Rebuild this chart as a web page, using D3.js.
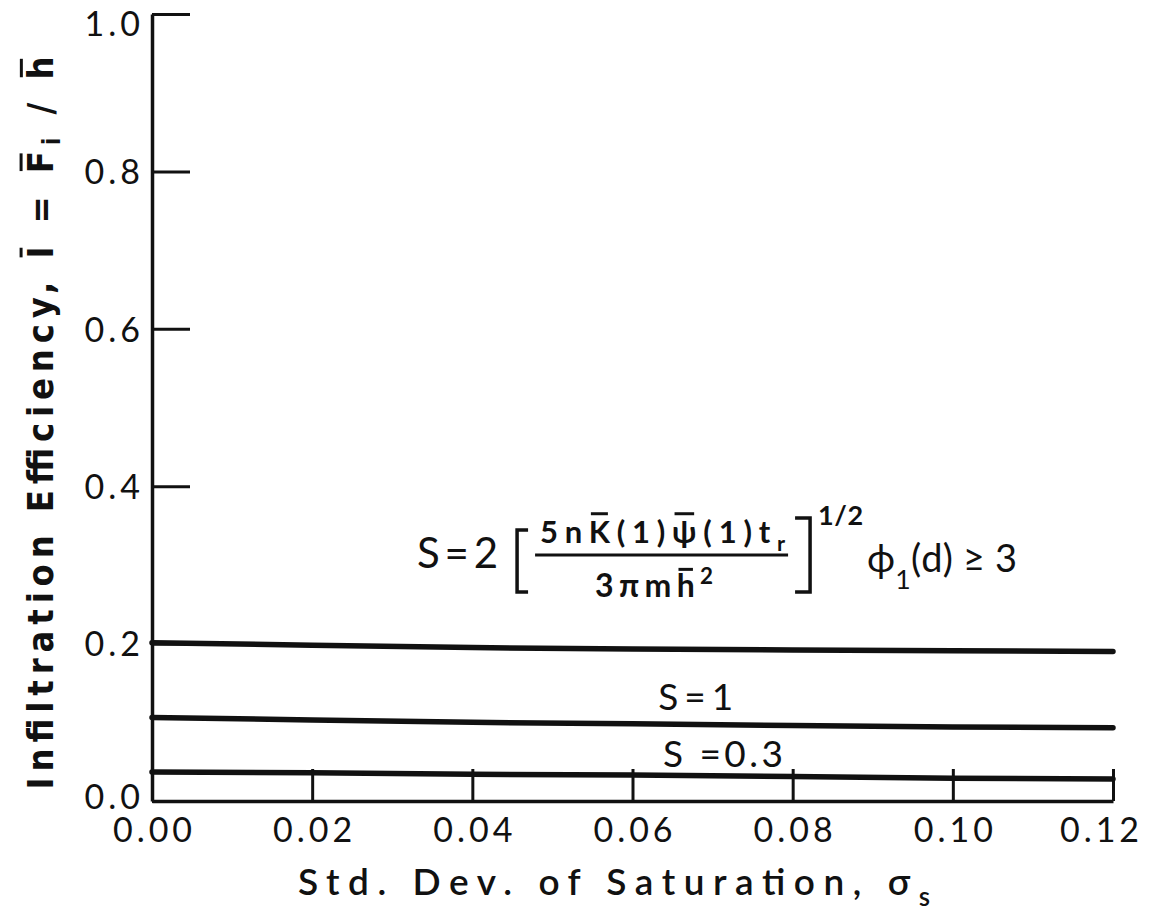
<!DOCTYPE html>
<html>
<head>
<meta charset="utf-8">
<script src="https://cdn.jsdelivr.net/npm/d3@7"></script>
<style>
  html, body { margin: 0; padding: 0; background: #fff; }
  svg { display: block; }
  text { fill: #111; }
</style>
</head>
<body>
<svg id="chart" width="1152" height="919"></svg>
<script>
// Infiltration efficiency vs. standard deviation of saturation
const sigmaS = [0, 0.02, 0.04, 0.06, 0.08, 0.10, 0.12];
const effHigh = [0.201, 0.198, 0.195, 0.193, 0.192, 0.191, 0.190]; // S >= 3
const effS1   = [0.106, 0.103, 0.100, 0.098, 0.096, 0.094, 0.093]; // S = 1
const effS03  = [0.037, 0.036, 0.034, 0.033, 0.031, 0.029, 0.028]; // S = 0.3

const xTicks = [0, 0.02, 0.04, 0.06, 0.08, 0.10, 0.12];
const xTickLabels = ["0.00", "0.02", "0.04", "0.06", "0.08", "0.10", "0.12"];
const yTicks = [0, 0.2, 0.4, 0.6, 0.8, 1.0];
const yTickLabels = ["0.0", "0.2", "0.4", "0.6", "0.8", "1.0"];
const seriesLabels = ["S = 1", "S =0.3"];

const INK = "#111";
const FONT = "Lato, 'Open Sans', sans-serif";

const svg = d3.select("#chart");
const x = d3.scaleLinear().domain([0, 0.12]).range([152, 1113]);
const y = d3.scaleLinear().domain([0, 1]).range([801, 14]);

// ---- axes ----
const yAxis = d3.axisLeft(y)
  .tickValues(yTicks)
  .tickFormat((d, i) => yTickLabels[i])
  .tickSizeInner(-38)
  .tickSizeOuter(0)
  .tickPadding(8);

const xAxis = d3.axisBottom(x)
  .tickValues(xTicks)
  .tickFormat((d, i) => xTickLabels[i])
  .tickSizeInner(-32)
  .tickSizeOuter(0)
  .tickPadding(17);

const gy = svg.append("g").attr("transform", `translate(${x(0)},0)`).call(yAxis);
const gx = svg.append("g").attr("transform", `translate(0,${y(0)})`).call(xAxis);

[gx, gy].forEach(g => {
  g.select(".domain").attr("stroke", INK).attr("stroke-width", 3.5);
  g.selectAll(".tick line").attr("stroke", INK).attr("stroke-width", 3);
  g.selectAll(".tick text")
    .attr("fill", INK)
    .style("font-family", FONT)
    .style("font-size", "34px")
    .style("letter-spacing", "4px");
});
// top label sits a little below its tick so it stays on the page;
// the bottom one is lifted clear of the x labels
gy.selectAll(".tick text").attr("dy", d => d === 1 ? "0.62em" : d === 0 ? "0.22em" : "0.36em");
gx.selectAll(".tick text").attr("dx", d => d === 0.12 ? "-12px" : "2px");

// ---- data lines ----
const line = d3.line().x(d => x(d[0])).y(d => y(d[1]));
[effHigh, effS1, effS03].forEach(vals => {
  svg.append("path")
    .datum(sigmaS.map((s, i) => [s, vals[i]]))
    .attr("d", line)
    .attr("fill", "none")
    .attr("stroke", INK)
    .attr("stroke-width", 5.5)
    .attr("stroke-linecap", "round");
});

// ---- helpers for text with sub/superscripts and overbars ----
function richText(parent, pieces, opts) {
  const t = parent.append("text")
    .attr("x", opts.x)
    .attr("y", opts.y)
    .style("font-family", opts.family || FONT)
    .style("font-size", opts.size + "px")
    .style("font-weight", opts.weight || 400)
    .attr("text-anchor", opts.anchor || "start");
  if (opts.length) t.attr("textLength", opts.length).attr("lengthAdjust", "spacing");
  let shift = 0;
  const bars = [];
  let idx = 0;
  pieces.forEach(p => {
    const sp = t.append("tspan").text(p.t);
    let target = 0;
    let fs = opts.size;
    if (p.sub) { target = opts.size * (p.subShift || 0.32); fs = opts.size * 0.7; }
    if (p.sup) { target = -opts.size * 0.42; fs = opts.size * 0.7; }
    sp.attr("dy", target - shift).style("font-size", fs + "px");
    shift = target;
    if (p.bar) bars.push({ idx, gap: p.gap || 6, h: p.h || 0.72 });
    idx += p.t.length;
  });
  // overbars drawn above selected characters
  const node = t.node();
  bars.forEach(b => {
    const r = node.getExtentOfChar(b.idx);
    const yb = opts.y - opts.size * b.h - b.gap;
    parent.append("line")
      .attr("x1", r.x + r.width * 0.1)
      .attr("x2", r.x + r.width * 0.9)
      .attr("y1", yb).attr("y2", yb)
      .attr("stroke", INK).attr("stroke-width", 3);
  });
  return t;
}

// ---- axis titles ----
const yTitle = svg.append("g").attr("transform", "translate(53,423) rotate(-90)");
richText(yTitle, [
  { t: "Infiltration Efficiency, " },
  { t: "I", bar: true, gap: 6 },
  { t: " = " },
  { t: "F", bar: true, gap: 6 },
  { t: "i", sub: true, subShift: 0.2 },
  { t: " / " },
  { t: "h", bar: true, gap: 5, h: 0.74 }
], { x: 0, y: 0, size: 36, anchor: "middle", length: 733, weight: 700,
     family: "'Liberation Sans Narrow', 'DejaVu Sans Condensed', sans-serif" });

richText(svg, [
  { t: "Std. Dev. of Saturation,  σ" },
  { t: "s", sub: true, subShift: 0.3 }
], { x: 614, y: 895, size: 37, anchor: "middle", length: 632, weight: 600 });

// ---- curve labels ----
richText(svg, [{ t: seriesLabels[0] }], { x: x(0.0632), y: y(0.1156), size: 37, length: 75 });
richText(svg, [{ t: seriesLabels[1] }], { x: x(0.0638), y: y(0.0432), size: 37, length: 120 });

// ---- parameter definition for the upper curve ----
const f = svg.append("g").attr("transform", `translate(${x(0.0331)},${y(0.296)})`);
richText(f, [{ t: "S = 2" }], { x: 0, y: 0, size: 42, length: 81 });

f.append("path").attr("d", "M111,-38H100V24H111")
  .attr("fill", "none").attr("stroke", INK).attr("stroke-width", 3.5);
f.append("path").attr("d", "M378,-50H393V24H378")
  .attr("fill", "none").attr("stroke", INK).attr("stroke-width", 3.5);

richText(f, [
  { t: "5n" },
  { t: "K", bar: true, gap: 7 },
  { t: "(1)" },
  { t: "ψ", bar: true, gap: 7 },
  { t: "(1)t" },
  { t: "r", sub: true, subShift: 0.25 }
], { x: 123, y: -25, size: 31, length: 245, weight: 700 });

f.append("line").attr("x1", 118).attr("x2", 371).attr("y1", -13).attr("y2", -13)
  .attr("stroke", INK).attr("stroke-width", 3);

richText(f, [
  { t: "3πm" },
  { t: "h", bar: true, gap: 4, h: 0.74 },
  { t: "2", sup: true }
], { x: 237, y: 29, size: 32, anchor: "middle", length: 118, weight: 700 });

richText(f, [{ t: "1/2" }], { x: 401, y: -43, size: 27, length: 45, weight: 700 });

richText(f, [
  { t: "ϕ" },
  { t: "1", sub: true, subShift: 0.45 },
  { t: "(d) ≥ 3" }
], { x: 450, y: 4, size: 38, length: 150 });
</script>
</body>
</html>
